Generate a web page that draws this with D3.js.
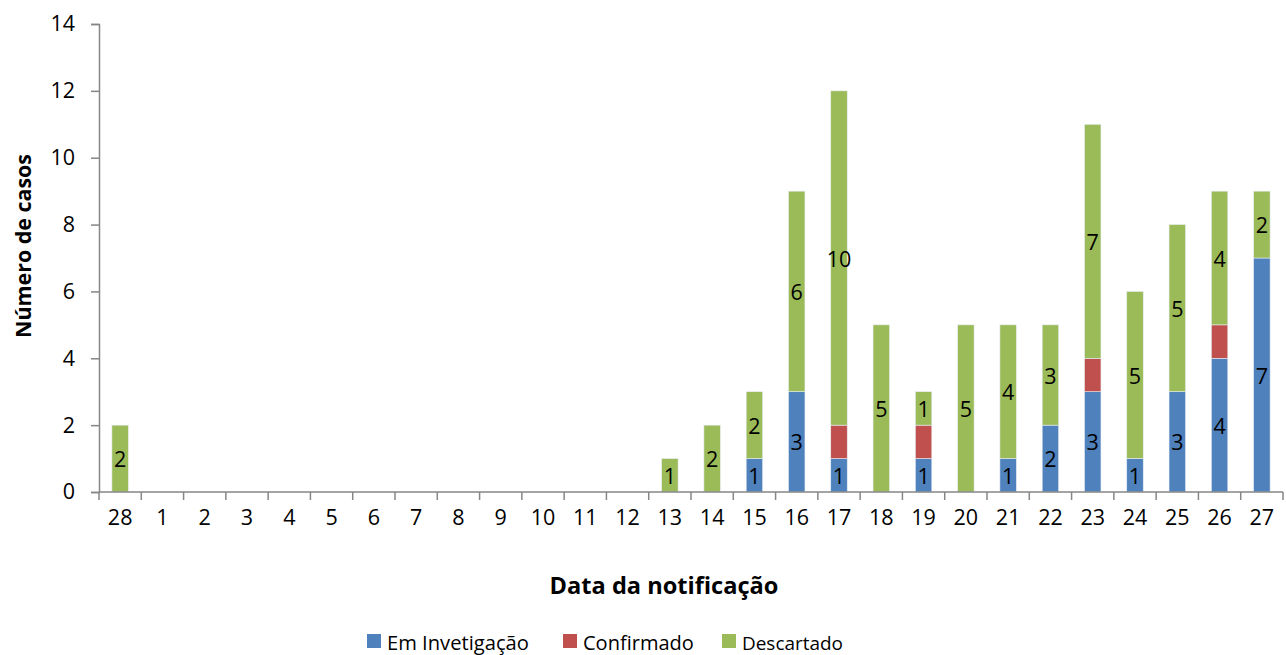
<!DOCTYPE html>
<html><head><meta charset="utf-8">
<script src="https://cdn.jsdelivr.net/npm/d3@7"></script>
<style>body{margin:0;background:#fff}svg{display:block}text{font-family:"Open Sans",sans-serif;fill:#000}</style>
</head><body>
<svg id="c" width="1286" height="655"></svg>
<script>
const categories = ["28","1","2","3","4","5","6","7","8","9","10","11","12","13","14","15","16","17","18","19","20","21","22","23","24","25","26","27"];
const emInvestigacao = [0,0,0,0,0,0,0,0,0,0,0,0,0,0,0,1,3,1,0,1,0,1,2,3,1,3,4,7];
const confirmado =     [0,0,0,0,0,0,0,0,0,0,0,0,0,0,0,0,0,1,0,1,0,0,0,1,0,0,1,0];
const descartado =     [2,0,0,0,0,0,0,0,0,0,0,0,0,1,2,2,6,10,5,1,5,4,3,7,5,5,4,2];
const yTicks = [0,2,4,6,8,10,12,14];
const seriesNames = ["Em Invetigação","Confirmado","Descartado"];
const colors = ["#4F81BD","#C0504D","#9BBB59"];
const showLabels = [true,false,true];

const data = categories.map((c,i)=>({cat:c, s0:emInvestigacao[i], s1:confirmado[i], s2:descartado[i]}));
const stack = d3.stack().keys(["s0","s1","s2"])(data);

const svg = d3.select("#c");
const m = {l:99, r:1283, t:24, b:492};
const x = d3.scaleBand().domain(categories).range([m.l, m.r]).paddingInner(0.61).paddingOuter(0.305);
const xb = d3.scaleBand().domain(categories).range([m.l, m.r]);
const y = d3.scaleLinear().domain([0,14]).range([m.b, m.t]);
const axisColor = "#868686";
const fs = "21.5px";

function fit(sel, target){
  sel.style("font-size","20px");
  const w = sel.node().getComputedTextLength();
  sel.style("font-size", (20*target/w).toFixed(2)+"px");
}

// bars
stack.forEach((layer,si)=>{
  const g = svg.append("g");
  g.selectAll("rect").data(layer.filter(d=>d[1]-d[0]>0)).enter().append("rect")
    .attr("x", d=>x(d.data.cat)).attr("width", x.bandwidth())
    .attr("y", d=>y(d[1])).attr("height", d=>y(d[0])-y(d[1]))
    .attr("fill", colors[si]).attr("stroke","#e8eef4").attr("stroke-width",0.6);
  if (showLabels[si]) {
    g.selectAll("text").data(layer.filter(d=>d[1]-d[0]>0)).enter().append("text")
      .attr("x", d=>x(d.data.cat)+x.bandwidth()/2)
      .attr("y", d=>(y(d[0])+y(d[1]))/2)
      .attr("text-anchor","middle").attr("dominant-baseline","central")
      .style("font-size",fs).text(d=>d[1]-d[0]);
  }
});

// y axis
const ya = svg.append("g").attr("transform",`translate(${m.l},0)`)
  .call(d3.axisLeft(y).tickValues(yTicks).tickSize(8).tickPadding(16));
ya.select(".domain").attr("stroke",axisColor).attr("stroke-width",1.5);
ya.selectAll(".tick line").attr("stroke",axisColor).attr("stroke-width",1.5);
ya.selectAll(".tick text").style("font-size",fs).style("font-family","'Open Sans',sans-serif").attr("fill","#000");

// x axis
const xg = svg.append("g").attr("transform",`translate(0,${m.b})`);
xg.append("line").attr("x1",m.l).attr("x2",m.r).attr("stroke",axisColor).attr("stroke-width",1.5);
const bounds = categories.map(c=>xb(c)).concat([m.r]);
xg.selectAll("line.t").data(bounds).enter().append("line").attr("class","t")
  .attr("x1",d=>d).attr("x2",d=>d).attr("y1",0).attr("y2",8)
  .attr("stroke",axisColor).attr("stroke-width",1.5);
xg.selectAll("text").data(categories).enter().append("text")
  .attr("x",c=>xb(c)+xb.bandwidth()/2).attr("y",33)
  .attr("text-anchor","middle").style("font-size",fs).text(c=>c);

// axis titles
const yt = svg.append("text").attr("transform","translate(31,246) rotate(-90)")
  .attr("text-anchor","middle").style("font-weight","bold").text("Número de casos");
fit(yt, 184);
const xt = svg.append("text").attr("x",664).attr("y",594).attr("text-anchor","middle")
  .style("font-weight","bold").text("Data da notificação");
fit(xt, 229);

// legend
const legX = [367, 563, 722];
const legW = [142, 111, 101];
const lg = svg.append("g");
seriesNames.forEach((n,i)=>{
  lg.append("rect").attr("x",legX[i]).attr("y",634).attr("width",14).attr("height",14).attr("fill",colors[i]);
  const t = lg.append("text").attr("x",legX[i]+20).attr("y",650).text(n);
  fit(t, legW[i]);
});
</script>
</body></html>
